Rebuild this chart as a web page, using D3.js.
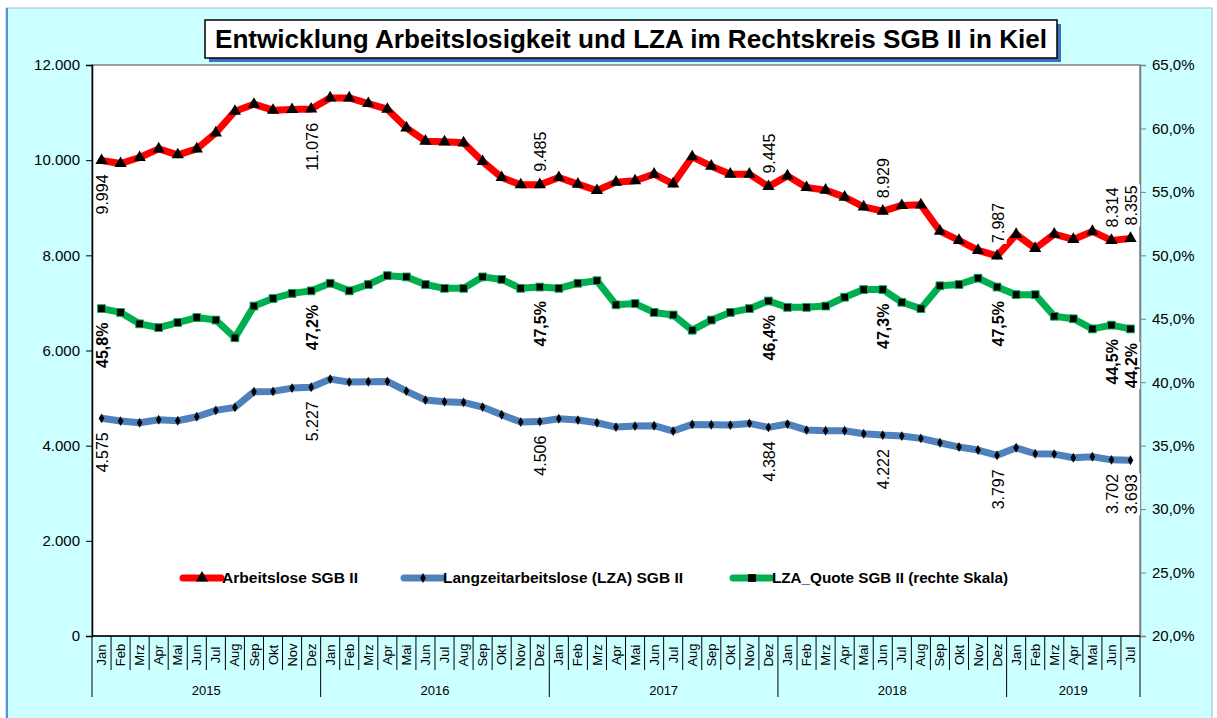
<!DOCTYPE html>
<html>
<head>
<meta charset="utf-8">
<script src="https://cdn.jsdelivr.net/npm/d3@7"></script>
<style>
  body { margin: 0; background: #fff; }
  text { font-family: "Liberation Sans", Arial, sans-serif; }
</style>
</head>
<body>
<script>
// Monate / Jahre
var months = ["Jan","Feb","Mrz","Apr","Mai","Jun","Jul","Aug","Sep","Okt","Nov","Dez"];
var years = ["2015","2016","2017","2018","2019"];
var monthsPerYear = [12, 12, 12, 12, 7];

// Arbeitslose SGB II
var arbeitslose = [9994, 9930, 10056, 10238, 10112, 10238, 10574, 11029, 11176, 11050, 11065, 11076,
  11309, 11309, 11190, 11071, 10679, 10399, 10385, 10364, 9973, 9636, 9482, 9485,
  9636, 9496, 9363, 9538, 9566, 9706, 9502, 10070, 9874, 9706, 9706, 9445,
  9670, 9426, 9370, 9223, 9019, 8929, 9048, 9061, 8508, 8313, 8103, 7987,
  8439, 8145, 8445, 8334, 8502, 8314, 8355];

// Langzeitarbeitslose (LZA) SGB II
var lza = [4575, 4517, 4482, 4545, 4524, 4607, 4741, 4804, 5133, 5140, 5210, 5227,
  5399, 5336, 5343, 5350, 5147, 4958, 4923, 4909, 4811, 4650, 4496, 4506,
  4565, 4538, 4482, 4391, 4412, 4419, 4307, 4447, 4440, 4433, 4468, 4384,
  4454, 4328, 4314, 4314, 4251, 4222, 4202, 4153, 4061, 3971, 3908, 3797,
  3956, 3830, 3823, 3746, 3767, 3702, 3693];

// LZA_Quote SGB II in %
var quote = [45.8, 45.5, 44.6, 44.3, 44.7, 45.1, 44.9, 43.5, 46.0, 46.6, 47.0, 47.2,
  47.8, 47.2, 47.7, 48.4, 48.3, 47.7, 47.4, 47.4, 48.3, 48.1, 47.4, 47.5,
  47.4, 47.8, 48.0, 46.1, 46.2, 45.5, 45.3, 44.1, 44.9, 45.5, 45.8, 46.4,
  45.9, 45.9, 46.0, 46.7, 47.3, 47.3, 46.3, 45.8, 47.6, 47.7, 48.2, 47.5,
  46.9, 46.9, 45.2, 45.0, 44.2, 44.5, 44.2];

// Datenbeschriftungen (Index)
var labelIdx = [0, 11, 23, 35, 41, 47, 53, 54];
var leftTicks = [0, 2000, 4000, 6000, 8000, 10000, 12000];
var rightTicks = [20, 25, 30, 35, 40, 45, 50, 55, 60, 65];

var W = 1217, H = 718;
var plot = {left: 92, right: 1140, top: 65, bottom: 636};

var de = d3.formatLocale({decimal: ",", thousands: ".", grouping: [3], currency: ["", " €"]});
var fmtNum = de.format(",.0f");
var fmtPct = function(v) { return de.format(".1f")(v) + "%"; };

// Kategorien
var cats = [];
years.forEach(function(y, yi) {
  for (var m = 0; m < monthsPerYear[yi]; m++) cats.push({year: y, month: months[m], yi: yi});
});
cats.forEach(function(c, i) { c.i = i; });

var x = d3.scaleBand().domain(d3.range(cats.length)).range([plot.left, plot.right]);
var yL = d3.scaleLinear().domain([0, 12000]).range([plot.bottom, plot.top]);
var yR = d3.scaleLinear().domain([20, 65]).range([plot.bottom, plot.top]);
var cx = function(i) { return x(i) + x.bandwidth() / 2; };

var svg = d3.select("body").append("svg").attr("width", W).attr("height", H);

// Hintergrund
svg.append("rect").attr("x", 6).attr("y", 8).attr("width", 1206).attr("height", 712)
  .attr("fill", "#CCFFFF").attr("stroke", "#9DB9E0").attr("stroke-width", 1);
svg.append("line").attr("x1", 7).attr("x2", 7).attr("y1", 8).attr("y2", 718)
  .attr("stroke", "#5B8FD6").attr("stroke-width", 2);

// Plotbereich
svg.append("rect").attr("x", plot.left).attr("y", plot.top)
  .attr("width", plot.right - plot.left).attr("height", plot.bottom - plot.top)
  .attr("fill", "#fff").attr("stroke", "#808080").attr("stroke-width", 1.5);

// Titel
svg.append("rect").attr("x", 209).attr("y", 24).attr("width", 852).attr("height", 38).attr("fill", "#3A6FC4");
svg.append("rect").attr("x", 205).attr("y", 20).attr("width", 852).attr("height", 38)
  .attr("fill", "#fff").attr("stroke", "#000").attr("stroke-width", 1.5);
svg.append("text").attr("x", 631).attr("y", 48).attr("text-anchor", "middle")
  .attr("font-size", 26).attr("font-weight", "bold")
  .attr("textLength", 832).attr("lengthAdjust", "spacingAndGlyphs")
  .text("Entwicklung Arbeitslosigkeit und LZA im Rechtskreis SGB II in Kiel");

// Achsen
var axL = svg.append("g").attr("transform", "translate(" + plot.left + ",0)")
  .call(d3.axisLeft(yL).tickValues(leftTicks).tickFormat(fmtNum).tickSize(6).tickPadding(6));
axL.select(".domain").attr("stroke", "#000").attr("stroke-width", 1.5);
axL.selectAll("text").attr("font-size", 15).attr("fill", "#000");

var axR = svg.append("g").attr("transform", "translate(" + plot.right + ",0)")
  .call(d3.axisRight(yR).tickValues(rightTicks).tickFormat(fmtPct).tickSize(6).tickPadding(6));
axR.select(".domain").attr("stroke", "#808080").attr("stroke-width", 1.5);
axR.selectAll(".tick line").attr("stroke", "#808080");
axR.selectAll("text").attr("font-size", 15).attr("fill", "#000");

// X-Achse: Monate
var xa = svg.append("g");
xa.append("line").attr("x1", plot.left).attr("x2", plot.right).attr("y1", plot.bottom).attr("y2", plot.bottom)
  .attr("stroke", "#000").attr("stroke-width", 1.5);
xa.selectAll(".msep").data(d3.range(cats.length + 1)).enter().append("line")
  .attr("x1", function(i) { return i < cats.length ? x(i) : plot.right; })
  .attr("x2", function(i) { return i < cats.length ? x(i) : plot.right; })
  .attr("y1", plot.bottom)
  .attr("y2", function(i) { return (i === cats.length || cats[i].month === "Jan") ? 697 : 670; })
  .attr("stroke", "#000").attr("stroke-width", 1);
xa.selectAll(".mlab").data(cats).enter().append("text")
  .attr("transform", function(d) { return "translate(" + cx(d.i) + ",655) rotate(-90)"; })
  .attr("text-anchor", "middle").attr("dy", "0.35em").attr("font-size", 13)
  .text(function(d) { return d.month; });
xa.selectAll(".ylab").data(years).enter().append("text")
  .attr("x", function(y, yi) {
    var first = d3.sum(monthsPerYear.slice(0, yi));
    var last = first + monthsPerYear[yi] - 1;
    return (x(first) + x(last) + x.bandwidth()) / 2;
  })
  .attr("y", 695).attr("text-anchor", "middle").attr("font-size", 13)
  .text(function(y) { return y; });

// Linien
var series = [
  {name: "Arbeitslose SGB II", values: arbeitslose, scale: yL, color: "#FF0000", sym: d3.symbolTriangle, size: 65, fmt: fmtNum, bold: false,
   pos: function(k) { return k < 2 ? "below" : "above"; }},
  {name: "Langzeitarbeitslose (LZA) SGB II", values: lza, scale: yL, color: "#4F81BD", sym: d3.symbolDiamond, size: 28, fmt: fmtNum, bold: false,
   pos: function() { return "below"; }},
  {name: "LZA_Quote SGB II (rechte Skala)", values: quote, scale: yR, color: "#00B050", sym: d3.symbolSquare, size: 60, fmt: fmtPct, bold: true,
   pos: function() { return "below"; }}
];

series.forEach(function(s) {
  var line = d3.line().x(function(v, i) { return cx(i); }).y(function(v) { return s.scale(v); });
  svg.append("path").datum(s.values).attr("d", line)
    .attr("fill", "none").attr("stroke", s.color).attr("stroke-width", 7).attr("stroke-linejoin", "round");
  svg.selectAll(null).data(s.values).enter().append("path")
    .attr("transform", function(v, i) { return "translate(" + cx(i) + "," + s.scale(v) + ")"; })
    .attr("d", d3.symbol().type(s.sym).size(s.size))
    .attr("fill", "#000")
    .attr("stroke", s.sym === d3.symbolSquare ? s.color : "none").attr("stroke-width", 1);
});

// Datenbeschriftungen
series.forEach(function(s) {
  labelIdx.forEach(function(i, k) {
    var py = s.scale(s.values[i]);
    var below = s.pos(k) === "below";
    var g = svg.append("g")
      .attr("transform", "translate(" + (cx(i) + 1) + "," + (below ? py + 14 : py - 13) + ") rotate(-90)");
    var t = g.append("text").attr("text-anchor", below ? "end" : "start").attr("dy", "0.35em")
      .attr("font-size", 16).attr("font-weight", s.bold ? "bold" : "normal").text(s.fmt(s.values[i]));
    var bb = t.node().getBBox();
    g.insert("rect", "text").attr("x", bb.x - 1).attr("y", bb.y).attr("width", bb.width + 2).attr("height", bb.height)
      .attr("fill", "#fff");
  });
});

// Legende
var legend = [
  {x0: 183, x1: 221, tx: 222, tl: 136},
  {x0: 404, x1: 442, tx: 443, tl: 240},
  {x0: 733, x1: 771, tx: 772, tl: 236}
];
var ly = 578;
series.forEach(function(s, k) {
  var L = legend[k];
  svg.append("line").attr("x1", L.x0).attr("x2", L.x1).attr("y1", ly).attr("y2", ly)
    .attr("stroke", s.color).attr("stroke-width", 7).attr("stroke-linecap", "round");
  svg.append("path").attr("transform", "translate(" + ((L.x0 + L.x1) / 2) + "," + ly + ")")
    .attr("d", d3.symbol().type(s.sym).size(s.size)).attr("fill", "#000");
  svg.append("text").attr("x", L.tx).attr("y", ly).attr("dy", "0.35em")
    .attr("font-size", 14).attr("font-weight", "bold")
    .attr("textLength", L.tl).attr("lengthAdjust", "spacingAndGlyphs").text(s.name);
});
</script>
</body>
</html>
